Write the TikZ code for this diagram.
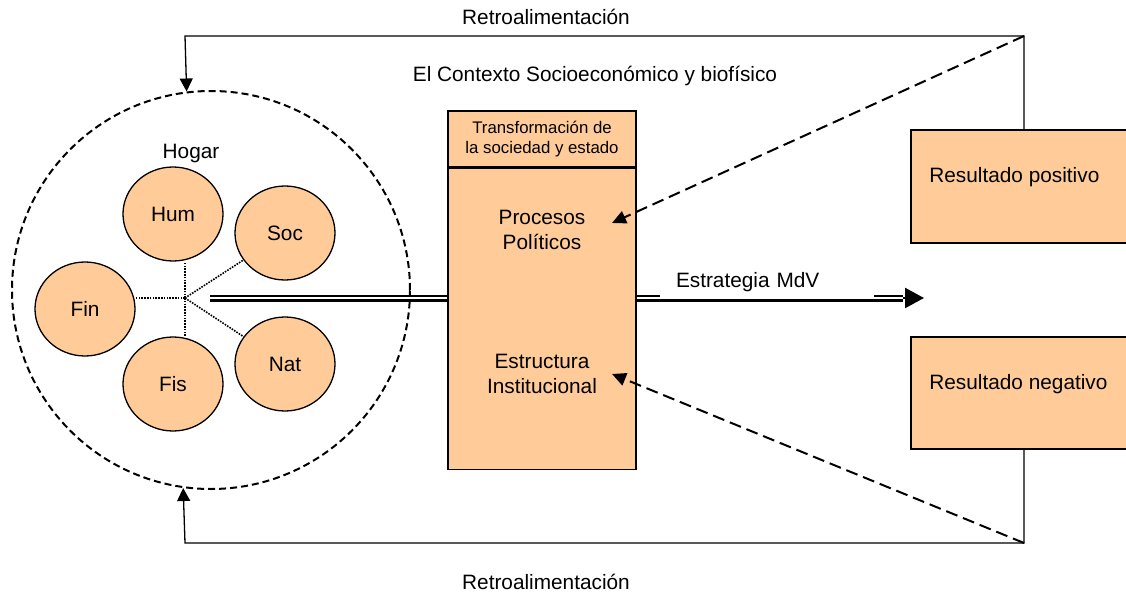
\documentclass[tikz,border=0pt]{standalone}
\usepackage{fontspec}
\setmainfont{Liberation Sans}
\usetikzlibrary{positioning}
\usetikzlibrary{shapes.geometric}
\usetikzlibrary{arrows.meta}
\definecolor{peach}{RGB}{255,204,153}

\begin{document}
\begin{tikzpicture}[x=0.5pt,y=-0.5pt,
    capital/.style={ellipse,draw,fill=peach,line width=0.65pt,minimum width=50pt,minimum height=47pt,inner sep=0pt,font=\fontsize{10.4}{12.5}\selectfont},
    box/.style={rectangle,draw,fill=peach,line width=0.65pt,inner sep=0pt},
    lbl/.style={font=\fontsize{10.4}{12.3}\selectfont,align=center,inner sep=0pt},
    fb/.style={line width=0.65pt},
    tip/.style={-{Triangle[length=6.5pt,width=6.5pt]}},
    dsh/.style={line width=1pt,dash pattern=on 6pt off 3pt,-{Triangle[length=7pt,width=6.5pt]}},
    dot/.style={line width=0.8pt,dash pattern=on 0.8pt off 0.6pt},
    dbl/.style={double,line width=1.25pt,double distance=1pt}]
      \useasboundingbox (0,0) rectangle (1126,594);

      \coordinate (tl) at (185,36);
      \coordinate (tr) at (1024,36);
      \coordinate (bl) at (185,543);
      \coordinate (br) at (1024,543);
      \coordinate (hub) at (185,298);
      \coordinate (hs) at (210,298);
      \coordinate (ah) at (903,298);
      \coordinate (ae) at (924,298);
      \coordinate (t1) at (612,223);
      \coordinate (t2) at (612,374);

      \node[circle,draw,line width=1pt,dash pattern=on 3.5pt off 2pt,minimum size=199pt,inner sep=0pt] (ring) at (211,290){};
      \node[lbl,anchor=base] (hog) at (191,158) {Hogar};

      \node[capital] (hum) at (173,214) {Hum};
      \node[capital] (soc) at (285,233) {Soc};
      \node[capital] (fin) at (85,309) {Fin};
      \node[capital] (fis) at (173,384) {Fis};
      \node[capital] (nat) at (285,364) {Nat};

      \draw[dot] (hub) -- (hum.south -| hub);
      \draw[dot] (hub) -- (fis.north -| hub);
      \draw[dot] (hub) -- (fin.east |- hub);
      \draw[dot] (hub) -- (soc);
      \draw[dot] (hub) -- (nat);

      \node[box,minimum width=94pt,minimum height=28pt,font=\fontsize{8.4}{10}\selectfont,align=center] (hdr) at (542,139) {Transformación de\\la sociedad y estado};
      \node[box,minimum width=94pt,minimum height=150.5pt,below=0pt of hdr] (inst) {};
      \node[lbl] (proc) at (542,230) {Procesos\\Políticos};
      \node[lbl] (estr) at (542,374) {Estructura\\Institucional};

      \draw[dbl] (hs) -- (hs -| inst.west);
      \draw[dbl] (hs -| inst.east) -- (ah);
      \draw[line width=1.25pt,-{Triangle[length=9.5pt,width=10pt]}] (ah) -- (ae);
      \node[lbl,fill=white,anchor=south,minimum width=107pt,text width=91pt,inner xsep=8pt,inner ysep=3pt,align=left] (mdv) at (767,298) {Estrategia MdV};

      \node[box,minimum width=109.5pt,minimum height=56.5pt] (pos) at (1020.5,186.5){};
      \node[box,minimum width=109.5pt,minimum height=56pt] (neg) at (1020.5,393){};
      \node[lbl,anchor=base west] (posl) at (929,182) {Resultado positivo};
      \node[lbl,anchor=base west] (negl) at (929,389) {Resultado negativo};

      \draw[fb,tip] (tr |- pos.north) -- (tr) -- (tl) -- (ring.97.5);
      \draw[fb,tip] (br |- neg.south) -- (br) -- (bl) -- (ring.262.5);
      \draw[dsh] (tr) -- (t1);
      \draw[dsh] (br) -- (t2);

      \node[lbl,anchor=base] (rt) at (546,25) {Retroalimentación};
      \node[lbl,anchor=base] (rb) at (546,589) {Retroalimentación};
      \node[lbl,anchor=base] (ctx) at (595,82) {El Contexto Socioeconómico y biofísico};
    \end{tikzpicture}
\end{document}
